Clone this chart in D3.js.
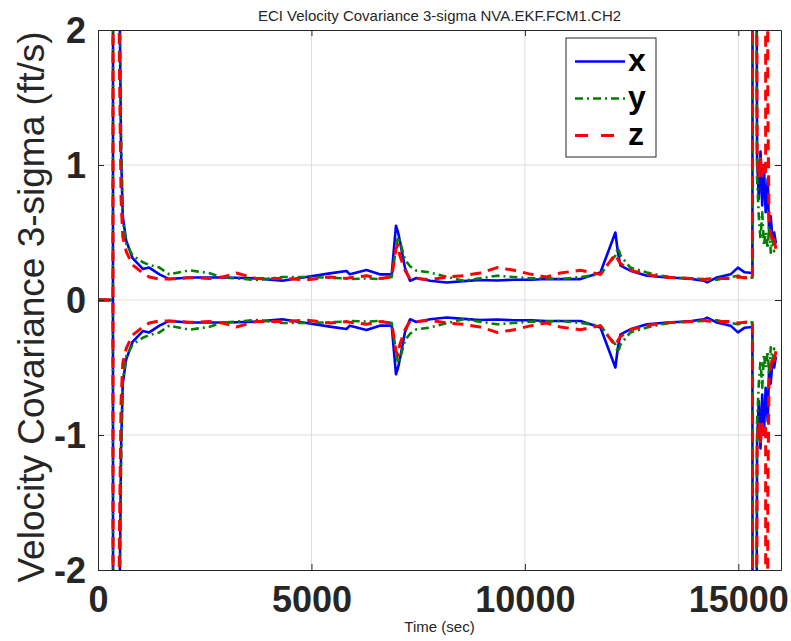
<!DOCTYPE html>
<html lang="en">
  <head>
    <script src="https://d3js.org/d3.v7.min.js"></script>
    <style>
      body { margin: 0; background: #fff; }
      text { font-family: "Liberation Sans", Arial, Helvetica, sans-serif; }
    </style>
  </head>
  <body>
    <script>
      // time stamps (sec) and 3-sigma values for each axis
      var timeSec = [0, 350, 380, 450, 500, 540, 580, 660, 810, 1050, 1200, 1440, 1670, 2140, 2600, 2920, 3240, 3700, 4320, 4880, 5430, 5820, 5900, 6290, 6600, 6880, 6980, 7030, 7070, 7190, 7310, 7460, 7780, 8170, 8560, 8950, 9350, 9750, 10150, 10500, 10830, 11300, 11770, 12120, 12180, 12240, 12470, 12860, 13200, 13570, 13900, 14190, 14270, 14500, 14820, 14990, 15150, 15330, 15365, 15400, 15440, 15480, 15520, 15560, 15600, 15640, 15660, 15690, 15720, 15760, 15800, 15840, 15880];
      var sigX = [0, 0, 30, 8, 2.4, 1.1, 0.62, 0.44, 0.31, 0.23, 0.24, 0.19, 0.155, 0.167, 0.167, 0.167, 0.165, 0.16, 0.143, 0.17, 0.197, 0.215, 0.19, 0.222, 0.19, 0.19, 0.55, 0.5, 0.44, 0.24, 0.143, 0.163, 0.143, 0.13, 0.14, 0.148, 0.145, 0.15, 0.15, 0.155, 0.155, 0.155, 0.204, 0.5, 0.35, 0.254, 0.217, 0.18, 0.17, 0.163, 0.155, 0.143, 0.13, 0.167, 0.19, 0.24, 0.205, 0.2, 25, 6, 1.05, 0.75, 1.1, 0.7, 1.0, 0.65, 0.75, 0.9, 0.5, 0.62, 0.45, 0.5, 0.42];
      var sigY = [0, 0, 30, 8, 2.6, 1.2, 0.6, 0.42, 0.33, 0.28, 0.26, 0.24, 0.19, 0.22, 0.2, 0.167, 0.16, 0.148, 0.17, 0.17, 0.165, 0.16, 0.155, 0.16, 0.155, 0.17, 0.38, 0.47, 0.44, 0.3, 0.25, 0.217, 0.204, 0.172, 0.143, 0.16, 0.18, 0.17, 0.16, 0.16, 0.155, 0.17, 0.19, 0.33, 0.39, 0.33, 0.24, 0.204, 0.18, 0.165, 0.16, 0.155, 0.15, 0.15, 0.17, 0.18, 0.17, 0.165, 25, 5, 0.9, 0.62, 0.45, 0.65, 0.4, 0.5, 0.45, 0.38, 0.55, 0.35, 0.45, 0.36, 0.4];
      var sigZ = [0, 0, 30, 6, 1.8, 0.75, 0.47, 0.36, 0.26, 0.2, 0.17, 0.155, 0.155, 0.165, 0.16, 0.17, 0.2, 0.16, 0.16, 0.15, 0.17, 0.16, 0.165, 0.18, 0.16, 0.17, 0.38, 0.41, 0.33, 0.22, 0.155, 0.16, 0.15, 0.17, 0.18, 0.2, 0.24, 0.22, 0.19, 0.17, 0.2, 0.22, 0.19, 0.34, 0.3, 0.27, 0.22, 0.19, 0.17, 0.165, 0.16, 0.15, 0.155, 0.16, 0.16, 0.17, 0.165, 0.16, 25, 7, 1.1, 0.9, 1.05, 0.92, 1.0, 0.95, 30, 1.5, 0.6, 0.5, 0.42, 0.45, 0.38];

      var xTicks = [0, 5000, 10000, 15000];
      var yTicks = [-2, -1, 0, 1, 2];
      var seriesNames = ["x", "y", "z"];

      var width = 791,
        height = 641;
      var padL = 98,
        padR = 781,
        padT = 30,
        padB = 570;

      var x = d3.scaleLinear().domain([0, 16000]).range([padL, padR]);
      var y = d3.scaleLinear().domain([-2, 2]).range([padB, padT]);

      var svg = d3
        .select("body")
        .append("svg")
        .attr("width", width)
        .attr("height", height);

      svg
        .append("clipPath")
        .attr("id", "plot")
        .append("rect")
        .attr("x", padL)
        .attr("y", padT)
        .attr("width", padR - padL)
        .attr("height", padB - padT);

      // grid
      svg
        .selectAll(".gx")
        .data(xTicks.slice(1))
        .join("line")
        .attr("x1", (d) => x(d))
        .attr("x2", (d) => x(d))
        .attr("y1", padT)
        .attr("y2", padB)
        .attr("stroke", "#dedede");
      svg
        .selectAll(".gy")
        .data([-1, 0, 1])
        .join("line")
        .attr("y1", (d) => y(d))
        .attr("y2", (d) => y(d))
        .attr("x1", padL)
        .attr("x2", padR)
        .attr("stroke", "#dedede");

      // lines
      var styles = [
        { color: "#0000ff", dash: null, w: 2.6 },
        { color: "#008000", dash: "8,4,2,4", w: 2.6 },
        { color: "#ff0000", dash: "11,7", w: 3 },
      ];
      var data = [sigX, sigY, sigZ];
      var line = d3
        .line()
        .x((d) => x(d[0]))
        .y((d) => y(d[1]));
      var g = svg.append("g").attr("clip-path", "url(#plot)");
      data.forEach(function (vals, i) {
        [1, -1].forEach(function (sgn) {
          var pts = timeSec.map((t, k) => [t, sgn * vals[k]]);
          g.append("path")
            .datum(pts)
            .attr("d", line)
            .attr("fill", "none")
            .attr("stroke", styles[i].color)
            .attr("stroke-width", styles[i].w)
            .attr("stroke-dasharray", styles[i].dash)
            .attr("stroke-linejoin", "round");
        });
      });

      // axes
      var axCol = "#262626";
      var bx = svg
        .append("g")
        .attr("transform", "translate(0," + padB + ")")
        .call(d3.axisBottom(x).tickValues(xTicks).tickSizeInner(-6).tickSizeOuter(0).tickPadding(16).tickFormat((d) => String(d)));
      var tx = svg
        .append("g")
        .attr("transform", "translate(0," + padT + ")")
        .call(d3.axisTop(x).tickValues(xTicks).tickSizeInner(-6).tickSizeOuter(0).tickFormat(""));
      var ly = svg
        .append("g")
        .attr("transform", "translate(" + padL + ",0)")
        .call(d3.axisLeft(y).tickValues(yTicks).tickSizeInner(-6).tickSizeOuter(0).tickPadding(12).tickFormat((d) => String(d)));
      var ry = svg
        .append("g")
        .attr("transform", "translate(" + padR + ",0)")
        .call(d3.axisRight(y).tickValues(yTicks).tickSizeInner(-6).tickSizeOuter(0).tickFormat(""));
      [bx, tx, ly, ry].forEach(function (a) {
        a.select(".domain").attr("stroke", axCol);
        a.selectAll(".tick line").attr("stroke", axCol);
        a.selectAll("text")
          .attr("fill", axCol)
          .style("font-size", "36px")
          .style("font-weight", "bold")
          .style("font-family", '"Liberation Sans", Arial, sans-serif');
      });
      ly.selectAll("text").attr("dy", "0.34em");

      // titles
      svg
        .append("text")
        .attr("x", (padL + padR) / 2)
        .attr("y", 21)
        .attr("text-anchor", "middle")
        .attr("fill", axCol)
        .style("font-size", "15px")
        .text("ECI Velocity Covariance 3-sigma NVA.EKF.FCM1.CH2");
      svg
        .append("text")
        .attr("x", (padL + padR) / 2)
        .attr("y", 632)
        .attr("text-anchor", "middle")
        .attr("fill", axCol)
        .style("font-size", "15px")
        .text("Time (sec)");
      svg
        .append("text")
        .attr("transform", "translate(44,307) rotate(-90)")
        .attr("text-anchor", "middle")
        .attr("fill", axCol)
        .style("font-size", "37px")
        .text("Velocity Covariance 3-sigma (ft/s)");

      // legend
      var lg = svg.append("g");
      lg.append("rect")
        .attr("x", 566)
        .attr("y", 38)
        .attr("width", 90)
        .attr("height", 119)
        .attr("fill", "#fff")
        .attr("stroke", axCol);
      seriesNames.forEach(function (name, i) {
        var ly0 = 61.5 + i * 37;
        lg.append("line")
          .attr("x1", 575)
          .attr("x2", 625)
          .attr("y1", ly0)
          .attr("y2", ly0)
          .attr("stroke", styles[i].color)
          .attr("stroke-width", styles[i].w)
          .attr("stroke-dasharray", i == 2 ? "13,13" : styles[i].dash);
        lg.append("text")
          .attr("x", 628)
          .attr("y", ly0)
          .attr("dy", "0.3em")
          .style("font-size", "32px")
          .style("font-weight", "bold")
          .text(name);
      });
    </script>
  </body>
</html>
